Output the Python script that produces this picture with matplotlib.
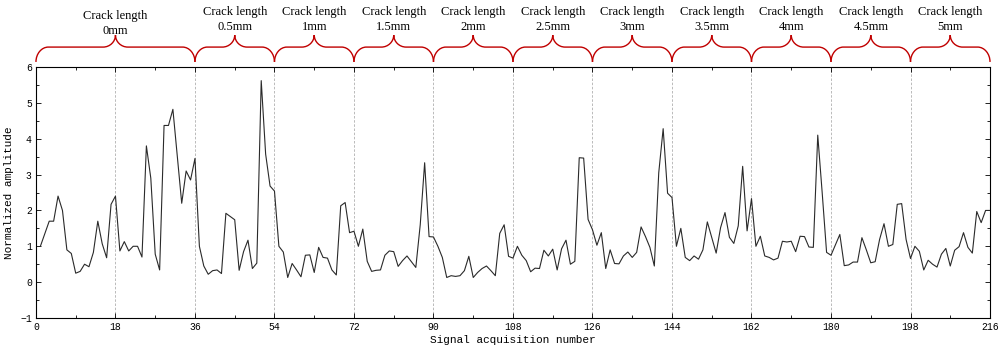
import matplotlib
matplotlib.use('Agg')
import matplotlib.pyplot as plt
import numpy as np
from matplotlib.path import Path
from matplotlib.patches import PathPatch
from matplotlib.transforms import blended_transform_factory
from matplotlib.ticker import MultipleLocator

########################################################################################
# data, one list per crack length

amp_0mm = [1.0, 1.35, 1.7, 1.7, 2.4, 2.0, 0.9, 0.8, 0.25, 0.3, 0.5, 0.43,
           0.83, 1.7, 1.07, 0.68, 2.17, 2.4, 0.87, 1.13, 0.87, 1.0, 1.0, 0.7,
           3.8, 2.9, 0.78, 0.34, 4.37, 4.37, 4.82, 3.5, 2.2, 3.1, 2.85, 3.45]
amp_05mm = [1.0, 0.45, 0.22, 0.32, 0.34, 0.24, 1.92, 1.83, 1.74, 0.33, 0.85, 1.17,
            0.38, 0.53, 5.62, 3.57, 2.68, 2.54]
amp_1mm = [1.0, 0.84, 0.13, 0.52, 0.34, 0.15, 0.75, 0.76, 0.27, 0.97, 0.69, 0.67,
           0.34, 0.2, 2.13, 2.22, 1.38, 1.42]
amp_15mm = [1.0, 1.48, 0.58, 0.3, 0.33, 0.34, 0.75, 0.87, 0.85, 0.44, 0.6, 0.73,
            0.57, 0.41, 1.6, 3.33, 1.27, 1.26]
amp_2mm = [1.0, 0.69, 0.13, 0.18, 0.16, 0.18, 0.32, 0.72, 0.13, 0.27, 0.38, 0.45,
           0.32, 0.18, 1.36, 1.6, 0.72, 0.67]
amp_25mm = [1.0, 0.75, 0.6, 0.29, 0.39, 0.38, 0.89, 0.73, 0.92, 0.34, 0.93, 1.17,
            0.5, 0.58, 3.47, 3.46, 1.75, 1.46]
amp_3mm = [1.03, 1.38, 0.38, 0.9, 0.52, 0.51, 0.73, 0.84, 0.69, 0.83, 1.54, 1.27,
           0.97, 0.45, 3.05, 4.28, 2.48, 2.36]
amp_35mm = [1.0, 1.5, 0.69, 0.6, 0.73, 0.64, 0.9, 1.68, 1.25, 0.81, 1.52, 1.94,
            1.25, 1.08, 1.57, 3.23, 1.43, 2.33]
amp_4mm = [1.0, 1.28, 0.73, 0.69, 0.62, 0.67, 1.14, 1.12, 1.14, 0.85, 1.28, 1.27,
           0.98, 0.97, 4.1, 2.5, 0.83, 0.75]
amp_45mm = [1.04, 1.33, 0.46, 0.48, 0.56, 0.56, 1.24, 0.9, 0.54, 0.57, 1.19, 1.63,
            1.0, 1.05, 2.17, 2.19, 1.19, 0.66]
amp_5mm = [1.0, 0.86, 0.34, 0.61, 0.5, 0.42, 0.78, 0.94, 0.45, 0.89, 0.99, 1.38,
           0.97, 0.81, 1.97, 1.66, 2.0, 2.0]

crack_labels = ['0mm', '0.5mm', '1mm', '1.5mm', '2mm', '2.5mm', '3mm',
                '3.5mm', '4mm', '4.5mm', '5mm']
boundaries = [0, 36, 54, 72, 90, 108, 126, 144, 162, 180, 198, 216]
grid_x = [18, 36, 54, 72, 90, 108, 126, 144, 162, 180, 198]

########################################################################################
def DrawBrace(ax, trans, x0, x1, yb, ym, yt, r, col):
    # curly brace from x0 to x1 (data), y in figure fraction
    xm = 0.5 * (x0 + x1)
    k = 0.55
    verts = [
        (x0, yb), (x0, yb + k * (ym - yb)), (x0 + r - k * r, ym), (x0 + r, ym),
        (xm - r, ym),
        (xm - r + k * r, ym), (xm, yt - k * (yt - ym)), (xm, yt),
        (xm, yt - k * (yt - ym)), (xm + r - k * r, ym), (xm + r, ym),
        (x1 - r, ym),
        (x1 - r + k * r, ym), (x1, yb + k * (ym - yb)), (x1, yb),
    ]
    codes = [Path.MOVETO, Path.CURVE4, Path.CURVE4, Path.CURVE4,
             Path.LINETO,
             Path.CURVE4, Path.CURVE4, Path.CURVE4,
             Path.CURVE4, Path.CURVE4, Path.CURVE4,
             Path.LINETO,
             Path.CURVE4, Path.CURVE4, Path.CURVE4]
    patch = PathPatch(Path(verts, codes), transform=trans, fill=False,
                      edgecolor=col, linewidth=1.0, clip_on=False)
    ax.add_patch(patch)

########################################################################################
amplitude = (amp_0mm + amp_05mm + amp_1mm + amp_15mm + amp_2mm + amp_25mm +
             amp_3mm + amp_35mm + amp_4mm + amp_45mm + amp_5mm)
xs = np.arange(1, len(amplitude) + 1)

monofont = 'Liberation Mono'
seriffont = 'Liberation Serif'

fig = plt.figure(figsize=(9.99, 3.54), dpi=100)
ax = fig.add_axes([0.036, 0.1017, 0.955, 0.709])

for gx in grid_x:
    ax.axvline(gx, color='#b0b0b0', linestyle=(0, (3, 2)), linewidth=0.6, zorder=1)

ax.plot(xs, amplitude, color='#2a2a2a', linewidth=0.8, zorder=3)

ax.set_xlim(0, 216)
ax.set_ylim(-1, 6)
ax.xaxis.set_major_locator(MultipleLocator(18))
ax.xaxis.set_minor_locator(MultipleLocator(9))
ax.yaxis.set_major_locator(MultipleLocator(1))
ax.yaxis.set_minor_locator(MultipleLocator(0.5))
ax.tick_params(which='both', direction='in', top=True, right=True, width=0.6)
ax.tick_params(which='major', length=3.5, labelsize=7, pad=3)
ax.tick_params(which='minor', length=2)
for lab in ax.get_xticklabels() + ax.get_yticklabels():
    lab.set_fontfamily(monofont)
for sp in ax.spines.values():
    sp.set_linewidth(0.8)

ax.set_xlabel('Signal acquisition number', fontfamily=monofont, fontsize=8, labelpad=2)
ax.set_ylabel('Normalized amplitude', fontfamily=monofont, fontsize=8, labelpad=4)

# braces and crack length labels above the axes
trans = blended_transform_factory(ax.transData, fig.transFigure)
for i, lab in enumerate(crack_labels):
    x0 = boundaries[i]
    x1 = boundaries[i + 1]
    DrawBrace(ax, trans, x0, x1, 0.825, 0.867, 0.901, 2.8, '#c00000')
    xm = 0.5 * (x0 + x1)
    if i == 0:
        ytxt = 0.972
    else:
        ytxt = 0.983
    ax.text(xm, ytxt, 'Crack length\n' + lab, transform=trans, ha='center', va='top',
            fontfamily=seriffont, fontsize=9, linespacing=1.3)

plt.savefig('out.png', dpi=100)
